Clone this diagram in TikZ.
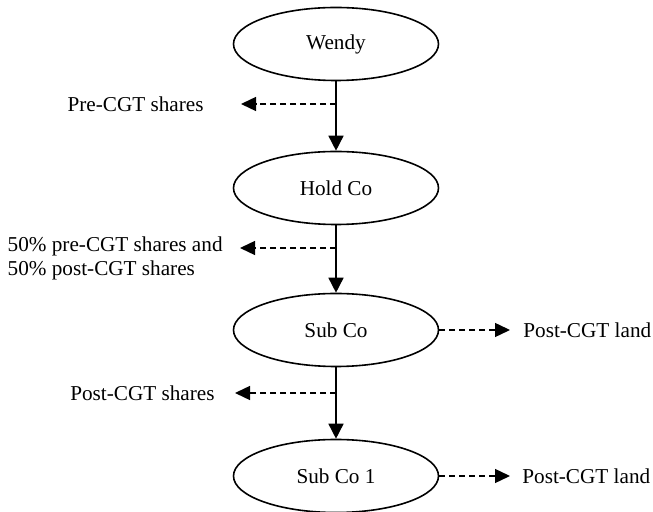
\documentclass[tikz,border=0pt]{standalone}
\usepackage{fontspec}
\setmainfont{Liberation Serif}
\usepackage{tikz}
\usetikzlibrary{calc}
\usetikzlibrary{arrows.meta}
\usetikzlibrary{positioning}
\usetikzlibrary{shapes.geometric}
\pgfkeys{tikz/firm/.style={ellipse,draw,line width=0.8pt,minimum width=102.5pt,minimum height=36.5pt,inner sep=0pt,font=\fontsize{10.6}{12}\selectfont}}
\pgfkeys{tikz/holding/.style={line width=0.8pt,-{Triangle[length=7.5pt,width=7.5pt]}}}
\pgfkeys{tikz/asset/.style={line width=0.7pt,dash pattern=on 3pt off 2pt,-{Triangle[length=7.5pt,width=7pt]}}}
\pgfkeys{tikz/lbl/.style={inner sep=0pt,align=left,font=\fontsize{10.6}{12}\selectfont}}

\begin{document}
\begin{tikzpicture}[x=0.5pt,y=-0.5pt]
    \useasboundingbox (0,0) rectangle (653,512);
    % companies
    \node[firm] (wendy) at (336,44) {Wendy};
    \node[firm] (hold) at (336,188) {Hold Co};
    \node[firm] (sub) at (336,330) {Sub Co};
    \node[firm] (subone) at (336,476) {Sub Co 1};
    \draw[holding] (wendy) -- (hold);
    \draw[holding] (hold) -- (sub);
    \draw[holding] (sub) -- (subone);
    % shares held
    \coordinate (b1) at (336,104);
    \coordinate (b2) at (336,248);
    \coordinate (b3) at (336,393);
    \coordinate (t1) at (241,104);
    \coordinate (t2) at (240,248);
    \coordinate (t3) at (235,393);
    \node[lbl,left=18.5pt of t1] (pre) {Pre-CGT shares};
    \node[lbl,anchor=north east] (mixed) at ([xshift=-8.5pt,yshift=6pt]t2) {50\% pre-CGT shares and\\50\% post-CGT shares};
    \node[lbl,left=10pt of t3] (post) {Post-CGT shares};
    \draw[asset] (b1) -- (t1);
    \draw[asset] (b2) -- (t2);
    \draw[asset] (b3) -- (t3);
    % land
    \coordinate (t4) at (510,330);
    \coordinate (t5) at (510,476);
    \node[lbl,right=6.5pt of t4] (land) {Post-CGT land};
    \node[lbl,right=6pt of t5] (landone) {Post-CGT land};
    \draw[asset] (sub) -- (t4);
    \draw[asset] (subone) -- (t5);
\end{tikzpicture}
\end{document}
